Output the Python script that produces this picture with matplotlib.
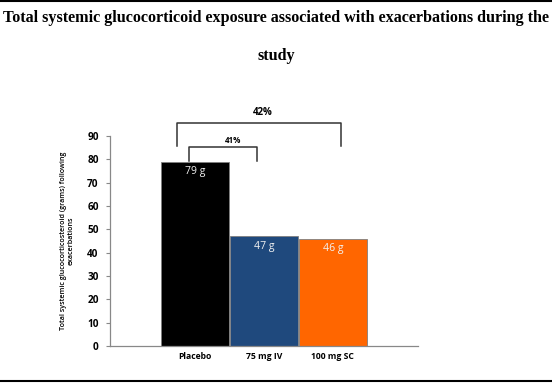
import matplotlib.pyplot as plt
from matplotlib.lines import Line2D

groups = ['Placebo', '75 mg IV', '100 mg SC']
exposure = [79, 47, 46]
value_labels = ['79 g', '47 g', '46 g']
bar_colors = ['#000000', '#1F497D', '#FF6600']
y_ticks = list(range(0, 100, 10))

fig = plt.figure(figsize=(5.52, 3.84), dpi=100)
ax = fig.add_axes([0.199, 0.099, 0.558, 0.547])

x = list(range(len(groups)))
ax.bar(x, exposure, width=0.985, color=bar_colors, edgecolor='#7f7f7f', linewidth=0.6)

for xi, v, lab in zip(x, exposure, value_labels):
    ax.text(xi, v - 4.4, lab, ha='center', va='center', color='#f2f2f2',
            fontsize=7.6, family='Open Sans')

# significance brackets
ax.add_line(Line2D([-0.26, -0.26, 2.12, 2.12], [85.7, 95.6, 95.6, 85.7],
                   color='#333333', lw=1.1, clip_on=False))
ax.text(0.99, 99.9, '42%', ha='center', va='center', fontsize=7,
        fontweight='bold', family='Open Sans', clip_on=False)
ax.add_line(Line2D([-0.09, -0.09, 0.90, 0.90], [79.3, 85.3, 85.3, 79.3],
                   color='#333333', lw=1.1, clip_on=False))
ax.text(0.55, 87.9, '41%', ha='center', va='center', fontsize=5.8,
        fontweight='bold', family='Open Sans', clip_on=False)

ax.set_xlim(-1.23, 3.23)
ax.set_ylim(0, 90)
ax.set_yticks(y_ticks)
ax.set_yticklabels([str(t) for t in y_ticks], fontsize=7.2, fontweight='bold',
                   family='Open Sans')
ax.set_xticks(x)
ax.set_xticklabels(groups, fontsize=6.2, fontweight='bold', family='Open Sans')
ax.tick_params(axis='x', length=0, pad=4)
ax.tick_params(axis='y', length=3, width=0.8, color='#888888', pad=5)
for s in ['top', 'right']:
    ax.spines[s].set_visible(False)
for s in ['left', 'bottom']:
    ax.spines[s].set_color('#888888')
    ax.spines[s].set_linewidth(0.9)

ax.set_ylabel('Total systemic glucocorticosteroid (grams) following\nexacerbations',
              fontsize=5.1, family='Open Sans', fontweight='semibold',
              labelpad=9, linespacing=1.1)

fig.text(0.5, 0.953, 'Total systemic glucocorticoid exposure associated with exacerbations during the',
         ha='center', va='center', fontsize=11.6, fontweight='bold', family='Liberation Serif')
fig.text(0.5, 0.854, 'study', ha='center', va='center', fontsize=11.6,
         fontweight='bold', family='Liberation Serif')

fig.add_artist(Line2D([0, 1], [0.998, 0.998], color='black', lw=1.5))
fig.add_artist(Line2D([0, 1], [0.007, 0.007], color='black', lw=1.5))

fig.savefig('out.png', dpi=100)
